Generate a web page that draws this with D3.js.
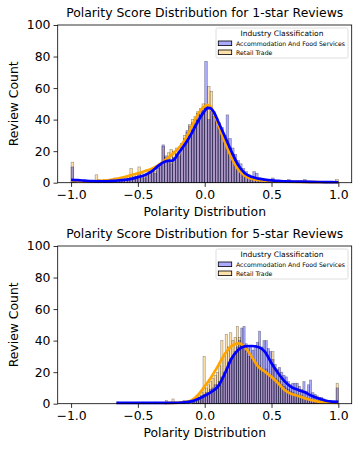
<!DOCTYPE html>
<html><head><meta charset="utf-8">
<script src="https://cdn.jsdelivr.net/npm/d3@7"></script>
<style>body{margin:0;background:#fff}svg{display:block;font-family:"DejaVu Sans",sans-serif}</style>
</head><body><svg id="c" width="360" height="450"></svg>
<script>
// ---------- DATA ----------
const seriesNames = ["Accommodation And Food Services", "Retail Trade"];
const xTicks = [-1.0, -0.5, 0.0, 0.5, 1.0];
const yTicks = [0, 20, 40, 60, 80, 100];
const titles = ["Polarity Score Distribution for 1-star Reviews", "Polarity Score Distribution for 5-star Reviews"];

// 1-star: 100 bins from -1 to 1
const bins1 = [-1.0, 1.0];
const hist1Accom = [
 10,1,0,0,0, 0,0,1,0,1, 1,0,1,0,1, 1,1,2,2,1, 2,2,3,2,4, 5,4,3,5,6,
 7,6,10,11,24, 17,15,12,16,18, 17,25,28,33,36, 38,40,44,46,48,
 77,40,45,42,41, 38,35,30,43,28, 22,18,14,12,9, 7,5,4,7,6,
 3,2,2,1,2, 3,1,1,0,1, 1,2,0,0,0, 1,0,2,0,0, 0,0,0,0,0, 0,0,0,0,1];
const hist1Retail = [
 13,1,0,0,1, 1,0,1,0,5, 2,1,2,1,1, 2,3,2,3,2, 3,4,9,4,6, 10,6,5,6,7,
 8,7,9,12,23, 16,19,21,20,22, 18,24,30,32,37, 40,42,45,47,50,
 48,61,58,45,40, 36,32,28,25,22, 18,14,10,8,6, 5,4,3,2,2,
 2,1,1,1,1, 2,1,0,1,0, 0,1,0,0,0, 0,0,1,0,0, 0,0,0,0,0, 0,0,0,0,2];
const kde1AccomX = [-1,-0.95,-0.9,-0.85,-0.8,-0.75,-0.7,-0.65,-0.6,-0.55,-0.5,-0.45,-0.4,-0.35,-0.3,-0.275,-0.25,-0.225,-0.2,-0.15,-0.1,-0.05,0,0.02,0.04,0.07,0.1,0.15,0.2,0.25,0.3,0.35,0.4,0.45,0.5,0.55,0.6,0.7,0.8,0.9,1.0];
const kde1AccomY = [1.8,1.6,1.3,1.0,0.9,0.9,1.1,1.4,1.8,2.4,3.5,4.8,7,10.5,13.3,13.8,13.8,15,18.3,24,31,39,45.5,47.5,47.3,44.5,39,29.5,19.8,11.3,6,3.7,2.6,2,1.5,1.1,0.9,0.7,0.5,0.4,0.3];
const kde1RetailX = [-1,-0.95,-0.9,-0.85,-0.8,-0.75,-0.7,-0.65,-0.6,-0.55,-0.5,-0.45,-0.4,-0.35,-0.3,-0.25,-0.2,-0.15,-0.1,-0.05,0,0.02,0.04,0.07,0.1,0.15,0.2,0.25,0.3,0.35,0.4,0.45,0.5,0.6,0.7,0.8,0.9,1.0];
const kde1RetailY = [1.2,1.0,0.9,0.9,1.0,1.3,1.8,2.6,3.6,4.8,6,7.3,8.7,11,14,17.5,21.5,27,35,43.5,48.5,49.3,48.5,44,37,26,16,8.5,4.5,2.6,1.8,1.3,1.0,0.7,0.5,0.4,0.3,0.3];

// 5-star: 100 bins from -0.66 to 1
const bins5 = [-0.66, 1.0];
const hist5Accom = [
 1,0,0,0,0, 0,0,0,0,0, 0,0,0,0,0, 0,0,1,0,0, 0,0,0,0,0, 0,0,0,1,0,
 2,0,1,0,1, 2,3,4,5,6, 7,6,9,10,12, 12,14,17,20,22,
 26,28,30,33,36, 40,48,49,38,35, 36,34,37,39,46, 36,40,40,35,33,
 28,25,22,23,20, 18,17,14,12,13, 13,13,11,9,14, 8,12,15,7,6,
 5,4,4,3,2, 2,2,1,1,10];
const hist5Retail = [
 0,0,0,0,0, 0,0,0,0,0, 0,0,0,0,0, 0,0,0,0,0, 0,0,2,0,0, 3,0,0,1,0,
 1,0,0,0,1, 2,4,5,7,30, 10,12,14,16,18, 20,24,40,30,44,
 36,45,40,42,49, 42,38,36,33,30, 30,28,26,25,24, 22,20,22,18,18,
 33,16,15,14,12, 11,10,9,8,7, 6,6,5,5,4, 4,3,3,3,2,
 2,2,1,1,1, 1,1,0,1,13];
const kde5AccomX = [-0.66,-0.5,-0.4,-0.3,-0.2,-0.15,-0.1,-0.05,0,0.05,0.1,0.15,0.2,0.25,0.3,0.35,0.4,0.45,0.5,0.55,0.6,0.65,0.7,0.75,0.8,0.85,0.9,0.95,1.0];
const kde5AccomY = [0.5,0.5,0.5,0.5,0.6,0.8,1.5,3,5,7.5,11,19,28.5,34,36.3,36.6,36,33,25.6,19.3,14,10.5,8.7,7.2,5,3.4,2,1.3,1.2];
const kde5RetailX = [-0.3,-0.25,-0.2,-0.15,-0.1,-0.05,0,0.05,0.1,0.15,0.2,0.25,0.28,0.3,0.35,0.4,0.45,0.5,0.55,0.6,0.65,0.7,0.75,0.8,0.85,0.9,0.95,1.0];
const kde5RetailY = [0.4,0.5,0.6,1.0,2,5.5,11,17,24,31.5,36.5,38.3,37.5,36,30,23.5,20.3,17,13,8.5,6.1,4.9,3.4,2.3,1.3,0.8,0.6,0.5];

// ---------- DRAW ----------
const svg = d3.select("#c");
const colAccom = "#0000ff", colRetail = "#ffa500";
const x = d3.scaleLinear().domain([-1.1, 1.1]).range([57.7, 351.7]);
const fmt = d => (d < 0 ? "\u2212" : "") + Math.abs(d).toFixed(1);

const panels = [
  {top: 25, bottom: 182.7, title: titles[0], bins: bins1, hA: hist1Accom, hR: hist1Retail,
   kA: [kde1AccomX, kde1AccomY], kR: [kde1RetailX, kde1RetailY]},
  {top: 246, bottom: 403.7, title: titles[1], bins: bins5, hA: hist5Accom, hR: hist5Retail,
   kA: [kde5AccomX, kde5AccomY], kR: [kde5RetailX, kde5RetailY]}
];

panels.forEach(p => {
  const y = d3.scaleLinear().domain([0, 100]).range([p.bottom, p.top]);
  const g = svg.append("g");
  const n = p.hA.length;
  const w = (p.bins[1] - p.bins[0]) / n;
  const drawHist = (vals, col) => {
    g.append("g").selectAll("rect").data(vals).join("rect")
      .attr("x", (d, i) => x(p.bins[0] + i * w))
      .attr("width", (d, i) => x(p.bins[0] + (i + 1) * w) - x(p.bins[0] + i * w))
      .attr("y", d => y(d))
      .attr("height", d => y(0) - y(d))
      .attr("fill", col).attr("fill-opacity", 0.33)
      .attr("stroke", "#000").attr("stroke-opacity", 0.4).attr("stroke-width", 0.6);
  };
  drawHist(p.hR, colRetail);
  drawHist(p.hA, colAccom);

  const line = d3.line().x(d => x(d[0])).y(d => y(d[1])).curve(d3.curveMonotoneX);
  const pts = k => k[0].map((v, i) => [v, k[1][i]]);
  g.append("path").attr("d", line(pts(p.kR))).attr("fill", "none").attr("stroke", colRetail).attr("stroke-width", 2.7);
  g.append("path").attr("d", line(pts(p.kA))).attr("fill", "none").attr("stroke", colAccom).attr("stroke-width", 2.7);

  // frame
  g.append("rect").attr("x", x.range()[0]).attr("y", p.top)
    .attr("width", x.range()[1] - x.range()[0]).attr("height", p.bottom - p.top)
    .attr("fill", "none").attr("stroke", "#000").attr("stroke-width", 0.8);

  const xa = g.append("g").attr("transform", `translate(0,${p.bottom})`)
    .call(d3.axisBottom(x).tickValues(xTicks).tickFormat(fmt).tickSize(4.2).tickPadding(3));
  const ya = g.append("g").attr("transform", `translate(${x.range()[0]},0)`)
    .call(d3.axisLeft(y).tickValues(yTicks).tickSize(4.2).tickPadding(3));
  [xa, ya].forEach(a => {
    a.select(".domain").remove();
    a.selectAll("line").attr("stroke", "#000").attr("stroke-width", 0.8);
    a.selectAll("text").attr("font-family", "DejaVu Sans").attr("font-size", 12.4).attr("fill", "#000");
  });

  // title & labels
  g.append("text").attr("x", (x.range()[0] + x.range()[1]) / 2).attr("y", p.top - 8.5)
    .attr("text-anchor", "middle").attr("font-size", 12.4).text(p.title);
  g.append("text").attr("x", (x.range()[0] + x.range()[1]) / 2).attr("y", p.bottom + 33.5)
    .attr("text-anchor", "middle").attr("font-size", 12.4).text("Polarity Distribution");
  g.append("text").attr("transform", `translate(17.5,${(p.top + p.bottom) / 2}) rotate(-90)`)
    .attr("text-anchor", "middle").attr("font-size", 12.4).text("Review Count");

  // legend
  const lg = g.append("g").attr("transform", `translate(216,${p.top + 3})`);
  lg.append("rect").attr("width", 132).attr("height", 30).attr("rx", 1.5)
    .attr("fill", "#fff").attr("fill-opacity", 0.8).attr("stroke", "#d6d6d6").attr("stroke-width", 0.8);
  lg.append("text").attr("x", 66).attr("y", 8.4).attr("text-anchor", "middle")
    .attr("font-size", 7.5).text("Industry Classification");
  [colAccom, colRetail].forEach((c, i) => {
    lg.append("rect").attr("x", 2.3).attr("y", 13 + i * 9).attr("width", 13.4).attr("height", 4.6)
      .attr("fill", c).attr("fill-opacity", 0.33).attr("stroke", "#000").attr("stroke-width", 0.8);
    lg.append("text").attr("x", 20).attr("y", 17.5 + i * 9).attr("font-size", 6.2).text(seriesNames[i]);
  });
});
</script></body></html>
